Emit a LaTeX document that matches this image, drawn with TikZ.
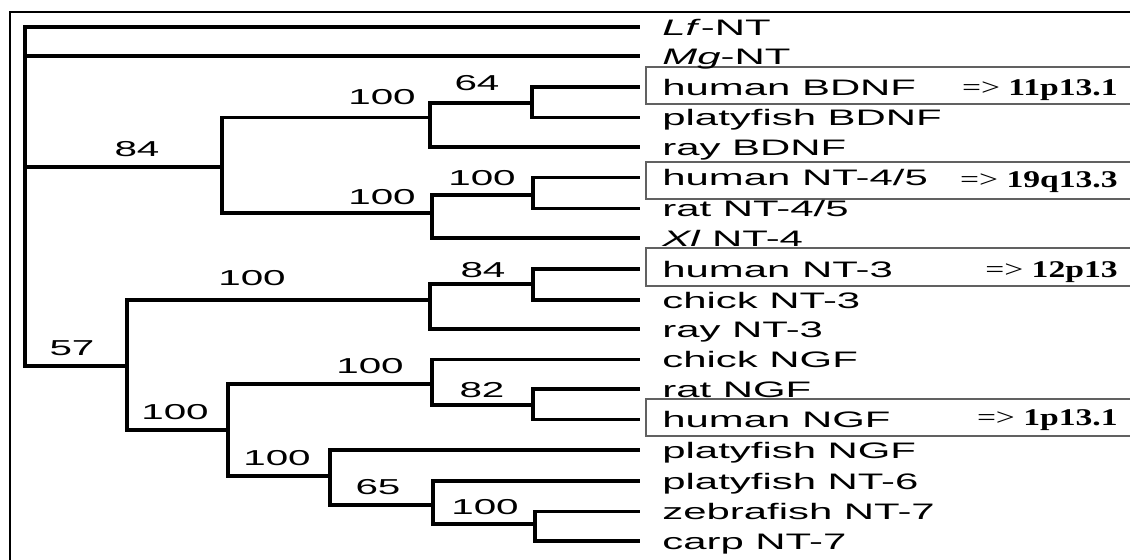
\documentclass[tikz,border=0pt]{standalone}
\usepackage{fontspec}
\newfontfamily\arialfont{Liberation Sans}
\newfontfamily\timesfont{Liberation Serif}
\usetikzlibrary{positioning}
\newcommand{\wtext}[1]{\scalebox{1.87}[1]{#1}}
\newcommand{\chrom}[1]{\scalebox{1.4}[1]{=>\ \textbf{#1}}}
\tikzset{
  x=0.5pt,
  y=-0.5pt,
  elbow/.style={
    draw,
    line width=1.7pt,
    to path={|- (\tikztotarget)}
  },
  leaf/.style={
    anchor=base west,
    inner sep=0pt,
    font=\arialfont\fontsize{11.2pt}{13pt}\selectfont
  },
  boot/.style={
    inner sep=0pt,
    font=\arialfont\fontsize{10.8pt}{12pt}\selectfont
  },
  chr/.style={
    anchor=base east,
    inner sep=0pt,
    font=\timesfont\fontsize{12pt}{14pt}\selectfont
  },
  hbox/.style={
    draw=black!62,
    line width=0.8pt
  },
  frame/.style={
    draw,
    line width=1.3pt
  }
}
\begin{document}
\begin{tikzpicture}
\clip (0,0) rectangle (1130,559);
\draw[frame] (10,12) rectangle (1160,580);
% leaf tips
\coordinate (tLf)   at (640,27);
\coordinate (tMg)   at (640,56);
\coordinate (thB)   at (640,87);
\coordinate (tpB)   at (640,117.5);
\coordinate (trB)   at (640,147);
\coordinate (th45)  at (640,177.5);
\coordinate (tr45)  at (640,208.5);
\coordinate (tXl)   at (640,238);
\coordinate (th3)   at (640,269);
\coordinate (tc3)   at (640,300);
\coordinate (tr3)   at (640,329);
\coordinate (tcG)   at (640,359.5);
\coordinate (trG)   at (640,389);
\coordinate (thG)   at (640,419.5);
\coordinate (tpG)   at (640,450);
\coordinate (tp6)   at (640,481);
\coordinate (tz7)   at (640,511.5);
\coordinate (tc7)   at (640,541);
% inner nodes
\coordinate (root)  at (25,167);
\coordinate (n84)   at (222,167);
\coordinate (nB)    at (430,117.7);
\coordinate (n64)   at (532,103);
\coordinate (nF)    at (432,213);
\coordinate (n45)   at (533,195);
\coordinate (n57)   at (127,366);
\coordinate (n3)    at (430,300);
\coordinate (n3b)   at (533,284);
\coordinate (nA)    at (228,430);
\coordinate (nG)    at (432,384);
\coordinate (n82)   at (533,405);
\coordinate (nP)    at (330,476);
\coordinate (n65)   at (433,505);
\coordinate (nZ)    at (535,524);
% branches
\path (root) edge[elbow] (tLf)
             edge[elbow] (tMg)
             edge[elbow] (n84)
             edge[elbow] (n57)
      (n84)  edge[elbow] (nB)
             edge[elbow] (nF)
      (nB)   edge[elbow] (n64)
             edge[elbow] (trB)
      (n64)  edge[elbow] (thB)
             edge[elbow] (tpB)
      (nF)   edge[elbow] (n45)
             edge[elbow] (tXl)
      (n45)  edge[elbow] (th45)
             edge[elbow] (tr45)
      (n57)  edge[elbow] (n3)
             edge[elbow] (nA)
      (n3)   edge[elbow] (n3b)
             edge[elbow] (tr3)
      (n3b)  edge[elbow] (th3)
             edge[elbow] (tc3)
      (nA)   edge[elbow] (nG)
             edge[elbow] (nP)
      (nG)   edge[elbow] (tcG)
             edge[elbow] (n82)
      (n82)  edge[elbow] (trG)
             edge[elbow] (thG)
      (nP)   edge[elbow] (tpG)
             edge[elbow] (n65)
      (n65)  edge[elbow] (tp6)
             edge[elbow] (nZ)
      (nZ)   edge[elbow] (tz7)
             edge[elbow] (tc7);
% boxes round the human genes
\draw[hbox] (646,67)  rectangle (1160,104);
\draw[hbox] (646,162) rectangle (1160,199);
\draw[hbox] (646,248) rectangle (1160,286);
\draw[hbox] (646,399) rectangle (1160,436);
% leaf names
\node[leaf] (lLf)  at (662,35)    {\wtext{\textit{Lf}-NT}};
\node[leaf] (lMg)  at (662,64)    {\wtext{\textit{Mg}-NT}};
\node[leaf] (lhB)  at (662,95)    {\wtext{human BDNF}};
\node[leaf] (lpB)  at (662,125.5) {\wtext{platyfish BDNF}};
\node[leaf] (lrB)  at (662,155)   {\wtext{ray BDNF}};
\node[leaf] (lh45) at (662,185.5) {\wtext{human NT-4/5}};
\node[leaf] (lr45) at (662,216.5) {\wtext{rat NT-4/5}};
\node[leaf] (lXl)  at (662,246)   {\wtext{\textit{Xl} NT-4}};
\node[leaf] (lh3)  at (662,277)   {\wtext{human NT-3}};
\node[leaf] (lc3)  at (662,308)   {\wtext{chick NT-3}};
\node[leaf] (lr3)  at (662,337)   {\wtext{ray NT-3}};
\node[leaf] (lcG)  at (662,367.5) {\wtext{chick NGF}};
\node[leaf] (lrG)  at (662,397)   {\wtext{rat NGF}};
\node[leaf] (lhG)  at (662,427.5) {\wtext{human NGF}};
\node[leaf] (lpG)  at (662,458)   {\wtext{platyfish NGF}};
\node[leaf] (lp6)  at (662,489)   {\wtext{platyfish NT-6}};
\node[leaf] (lz7)  at (662,519.5) {\wtext{zebrafish NT-7}};
\node[leaf] (lc7)  at (662,549)   {\wtext{carp NT-7}};
% chromosome locations
\node[chr] (cB)  at (1118,95)  {\chrom{11p13.1}};
\node[chr] (c45) at (1118,187) {\chrom{19q13.3}};
\node[chr] (c3)  at (1118,277) {\chrom{12p13}};
\node[chr] (cG)  at (1118,425) {\chrom{1p13.1}};
% bootstrap values
\node[boot] (b84)  at (137,149) {\wtext{84}};
\node[boot] (b57)  at (72,348)  {\wtext{57}};
\node[boot] (bB)   at (382,97)  {\wtext{100}};
\node[boot] (b64)  at (477,83)  {\wtext{64}};
\node[boot] (bF)   at (382,197) {\wtext{100}};
\node[boot] (b45)  at (482,178) {\wtext{100}};
\node[boot] (b3)   at (252,278) {\wtext{100}};
\node[boot] (b3b)  at (483,270) {\wtext{84}};
\node[boot] (bG)   at (370,366) {\wtext{100}};
\node[boot] (b82)  at (482,390) {\wtext{82}};
\node[boot] (bA)   at (175,412) {\wtext{100}};
\node[boot] (bP)   at (277,458) {\wtext{100}};
\node[boot] (b65)  at (378,487) {\wtext{65}};
\node[boot] (bZ)   at (485,507) {\wtext{100}};
\end{tikzpicture}
\end{document}
